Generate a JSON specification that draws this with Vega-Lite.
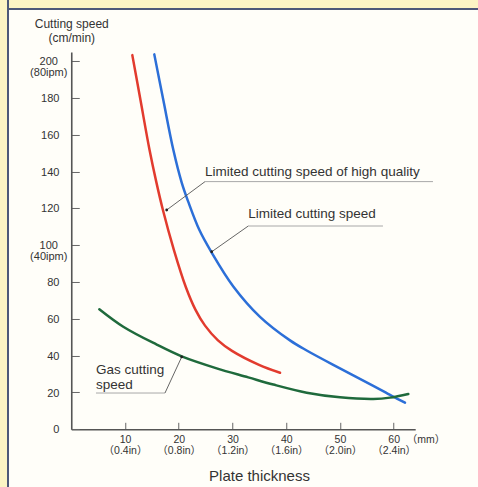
{
  "$schema": "https://vega.github.io/schema/vega-lite/v6.json",
  "width": 343.94,
  "height": 377.32,
  "autosize": {"type": "none"},
  "padding": {"left": 71.26, "top": 51.98, "right": 62.8, "bottom": 57.7},
  "background": "#fffef9",
  "config": {
    "view": {"stroke": null},
    "font": "Liberation Sans",
    "axis": {"labelFont": "Liberation Sans, Noto Sans CJK JP", "titleFont": "Liberation Sans", "zindex": 1}
  },
  "datasets": {
    "strips": [
      {"x": -13.63, "y": 234.2, "x2": 76.07, "y2": 228.24},
      {"x": -13.63, "y": 234.2, "x2": -11.77, "y2": -32.96}
    ],
    "curves": [
      {"series": "high", "x": 11.36, "y": 203.2},
      {"series": "high", "x": 12.88, "y": 178.8},
      {"series": "high", "x": 14.56, "y": 151.8},
      {"series": "high", "x": 15.81, "y": 134.5},
      {"series": "high", "x": 17.02, "y": 119.5},
      {"series": "high", "x": 19.12, "y": 97.2},
      {"series": "high", "x": 21.35, "y": 77.0},
      {"series": "high", "x": 23.1, "y": 65.0},
      {"series": "high", "x": 24.89, "y": 56.3},
      {"series": "high", "x": 27.3, "y": 48.3},
      {"series": "high", "x": 29.91, "y": 42.6},
      {"series": "high", "x": 34.94, "y": 35.0},
      {"series": "high", "x": 38.85, "y": 30.7},
      {"series": "limit", "x": 15.45, "y": 203.6},
      {"series": "limit", "x": 17.13, "y": 178.8},
      {"series": "limit", "x": 18.99, "y": 151.8},
      {"series": "limit", "x": 20.55, "y": 134.0},
      {"series": "limit", "x": 21.78, "y": 123.5},
      {"series": "limit", "x": 23.8, "y": 108.5},
      {"series": "limit", "x": 26.13, "y": 96.0},
      {"series": "limit", "x": 30.15, "y": 77.6},
      {"series": "limit", "x": 35.12, "y": 61.1},
      {"series": "limit", "x": 40.7, "y": 48.3},
      {"series": "limit", "x": 43.81, "y": 42.8},
      {"series": "limit", "x": 50.0, "y": 33.1},
      {"series": "limit", "x": 56.2, "y": 23.6},
      {"series": "limit", "x": 59.63, "y": 18.2},
      {"series": "limit", "x": 62.1, "y": 14.5},
      {"series": "gas", "x": 5.22, "y": 65.2},
      {"series": "gas", "x": 9.68, "y": 55.7},
      {"series": "gas", "x": 15.9, "y": 46.0},
      {"series": "gas", "x": 20.55, "y": 39.6},
      {"series": "gas", "x": 27.06, "y": 33.1},
      {"series": "gas", "x": 32.94, "y": 28.2},
      {"series": "gas", "x": 37.6, "y": 24.3},
      {"series": "gas", "x": 43.81, "y": 19.9},
      {"series": "gas", "x": 50.0, "y": 17.4},
      {"series": "gas", "x": 56.2, "y": 16.5},
      {"series": "gas", "x": 59.31, "y": 17.2},
      {"series": "gas", "x": 62.72, "y": 19.2}
    ],
    "leaders": [
      {"x": 24.89, "y": 134.5, "x2": 17.76, "y2": 119.1},
      {"x": 32.94, "y": 110.4, "x2": 26.13, "y2": 96.4},
      {"x": 17.44, "y": 19.7, "x2": 20.55, "y2": 39.3}
    ],
    "underlines": [
      {"x": 24.89, "y": 134.5, "x2": 67.31, "y2": 134.5},
      {"x": 32.94, "y": 110.4, "x2": 58.0, "y2": 110.4},
      {"x": 4.6, "y": 19.7, "x2": 17.44, "y2": 19.7}
    ],
    "tips": [
      {"x": 17.76, "y": 119.1},
      {"x": 26.13, "y": 96.4},
      {"x": 20.55, "y": 39.3}
    ],
    "notes": [
      {"x": 24.89, "y": 143.5, "text": "Limited cutting speed of high quality"},
      {"x": 32.94, "y": 120.6, "text": "Limited cutting speed"},
      {"x": 4.6, "y": 35.8, "text": ["Gas cutting", "speed"]}
    ],
    "unit": [
      {"x": 66, "y": -3.1, "text": "（mm）"}
    ]
  },
  "encoding": {
    "x": {
      "field": "x",
      "type": "quantitative",
      "scale": {"domain": [0, 64], "nice": false, "zero": false},
      "axis": {
        "values": [10, 20, 30, 40, 50, 60],
        "domain": true,
        "domainColor": "#555555",
        "domainWidth": 1.6,
        "grid": false,
        "zindex": 1,
        "tickSize": -7,
        "tickWidth": 1,
        "tickColor": "#666666",
        "labelFontSize": 10.5,
        "labelColor": "#333333",
        "labelBaseline": "top",
        "labelPadding": 12.6,
        "labelLineHeight": 10.5,
        "labelOverlap": false,
        "labelFlush": false,
        "labelBound": false,
        "labelExpr": "datum.value == 10 ? ['10', '（0.4in）'] : datum.value == 20 ? ['20', '（0.8in）'] : datum.value == 30 ? ['30', '（1.2in）'] : datum.value == 40 ? ['40', '（1.6in）'] : datum.value == 50 ? ['50', '（2.0in）'] : ['60', '（2.4in）']",
        "title": "Plate thickness",
        "titleX": 187.74,
        "titleY": 50.7,
        "titleAlign": "center",
        "titleBaseline": "alphabetic",
        "titleFontSize": 15,
        "titleFontWeight": "normal",
        "titleColor": "#333333"
      }
    },
    "y": {
      "field": "y",
      "type": "quantitative",
      "scale": {"domain": [0, 204.9], "nice": false, "zero": false},
      "axis": {
        "values": [0, 20, 40, 60, 80, 100, 120, 140, 160, 180, 200],
        "domain": true,
        "domainColor": "#555555",
        "domainWidth": 1.6,
        "grid": false,
        "zindex": 1,
        "tickSize": -8,
        "tickWidth": 1,
        "tickColor": "#666666",
        "labelFontSize": 11,
        "labelColor": "#333333",
        "labelAlign": {"condition": {"test": "datum.value == 200 || datum.value == 100", "value": "center"}, "value": "right"},
        "labelPadding": {"condition": {"test": "datum.value == 200 || datum.value == 100", "value": 31}, "value": 20.3},
        "labelBaseline": "top",
        "labelOffset": -5.4,
        "labelLineHeight": 11.1,
        "labelOverlap": false,
        "labelFlush": false,
        "labelBound": false,
        "labelExpr": "datum.value == 200 ? ['200', '(80ipm)'] : datum.value == 100 ? ['100', '(40ipm)'] : datum.label",
        "title": ["Cutting speed", "(cm/min)"],
        "titleAngle": 0,
        "titleAlign": "center",
        "titleBaseline": "top",
        "titleX": 0,
        "titleY": -33.2,
        "titleFontSize": 12,
        "titleFontWeight": "normal",
        "titleColor": "#333333",
        "titleLineHeight": 13.4
      }
    }
  },
  "layer": [
    {
      "data": {"name": "strips"},
      "mark": {"type": "rect", "fill": "#fcf4c4", "stroke": "#4d5878", "strokeWidth": 2},
      "encoding": {"x2": {"field": "x2"}, "y2": {"field": "y2"}}
    },
    {
      "data": {"name": "curves"},
      "mark": {"type": "line", "interpolate": "catmull-rom", "strokeWidth": 2.5, "strokeCap": "round"},
      "encoding": {
        "color": {
          "field": "series",
          "type": "nominal",
          "scale": {"domain": ["high", "limit", "gas"], "range": ["#e23b2e", "#2c6fd8", "#1f6a3c"]},
          "legend": null
        }
      }
    },
    {
      "data": {"name": "underlines"},
      "mark": {"type": "rule", "color": "#a8a8a8", "strokeWidth": 1},
      "encoding": {"x2": {"field": "x2"}, "y2": {"field": "y2"}}
    },
    {
      "data": {"name": "leaders"},
      "mark": {"type": "rule", "color": "#555555", "strokeWidth": 0.9},
      "encoding": {"x2": {"field": "x2"}, "y2": {"field": "y2"}}
    },
    {
      "data": {"name": "tips"},
      "mark": {"type": "circle", "color": "#222222", "size": 8, "opacity": 1}
    },
    {
      "data": {"name": "notes"},
      "mark": {"type": "text", "align": "left", "baseline": "top", "fontSize": 13.5, "lineHeight": 14.5, "color": "#333333"},
      "encoding": {"text": {"field": "text"}}
    },
    {
      "data": {"name": "unit"},
      "mark": {"type": "text", "align": "center", "baseline": "top", "fontSize": 10.5, "color": "#333333", "font": "Liberation Sans, Noto Sans CJK JP"},
      "encoding": {"text": {"field": "text"}}
    }
  ]
}
